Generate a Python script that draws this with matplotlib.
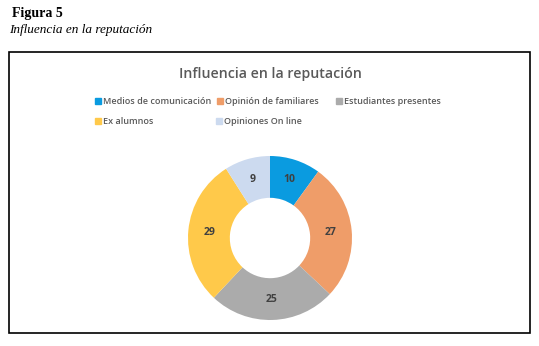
import matplotlib.pyplot as plt
from matplotlib.patches import Rectangle

categorias = ["Medios de comunicación", "Opinión de familiares", "Estudiantes presentes",
              "Ex alumnos", "Opiniones On line"]
valores = [10, 27, 25, 29, 9]
colores = ["#0A9BE0", "#EF9D69", "#ABABAB", "#FFC94A", "#CCDAEF"]

W, H = 539, 346
fig = plt.figure(figsize=(W / 100, H / 100), dpi=100)
fig.patch.set_facecolor("white")

# caption above the box
fig.text(12 / W, 1 - 13 / H, "Figura 5", family="Liberation Serif", weight="bold",
         fontsize=10, va="center", ha="left")
fig.text(9 / W, 1 - 30 / H, "Influencia en la reputación", family="Liberation Serif",
         style="italic", fontsize=9.5, va="center", ha="left")

# chart frame
fig.patches.append(Rectangle((8.5 / W, 1 - 333 / H), 521.5 / W, 281 / H,
                             transform=fig.transFigure, fill=False,
                             edgecolor="black", linewidth=1.2))

gris = "#595959"
fig.text(270 / W, 1 - 74 / H, "Influencia en la reputación", family="Open Sans",
         fontsize=10.2, weight="semibold", color=gris, ha="center", va="center")

# legend laid out like the Excel one
pos = [(95, 101), (217, 101), (336, 101), (95, 121), (216, 121)]
for (x, y), nombre, c in zip(pos, categorias, colores):
    fig.patches.append(Rectangle((x / W, 1 - (y + 3) / H), 6 / W, 6 / H,
                                 transform=fig.transFigure, color=c))
    fig.text((x + 8) / W, 1 - y / H, nombre, family="Open Sans", fontsize=6.5,
             weight="semibold", color=gris, ha="left", va="center")

# donut
cx, cy, r = 270, 238, 82
ax = fig.add_axes([(cx - r) / W, 1 - (cy + r) / H, 2 * r / W, 2 * r / H])
wedges, textos = ax.pie(valores, colors=colores, startangle=90, counterclock=False,
                        radius=1, wedgeprops=dict(width=0.51, linewidth=0),
                        labels=[str(v) for v in valores], labeldistance=0.745,
                        textprops=dict(fontsize=7.5, color="#404040",
                                       family="Open Sans", weight="bold"))
for t in textos:
    t.set_ha("center")
    t.set_va("center")
ax.set_xlim(-1, 1)
ax.set_ylim(-1, 1)
ax.set_aspect("auto")
ax.axis("off")

fig.savefig("out.png", dpi=100)
